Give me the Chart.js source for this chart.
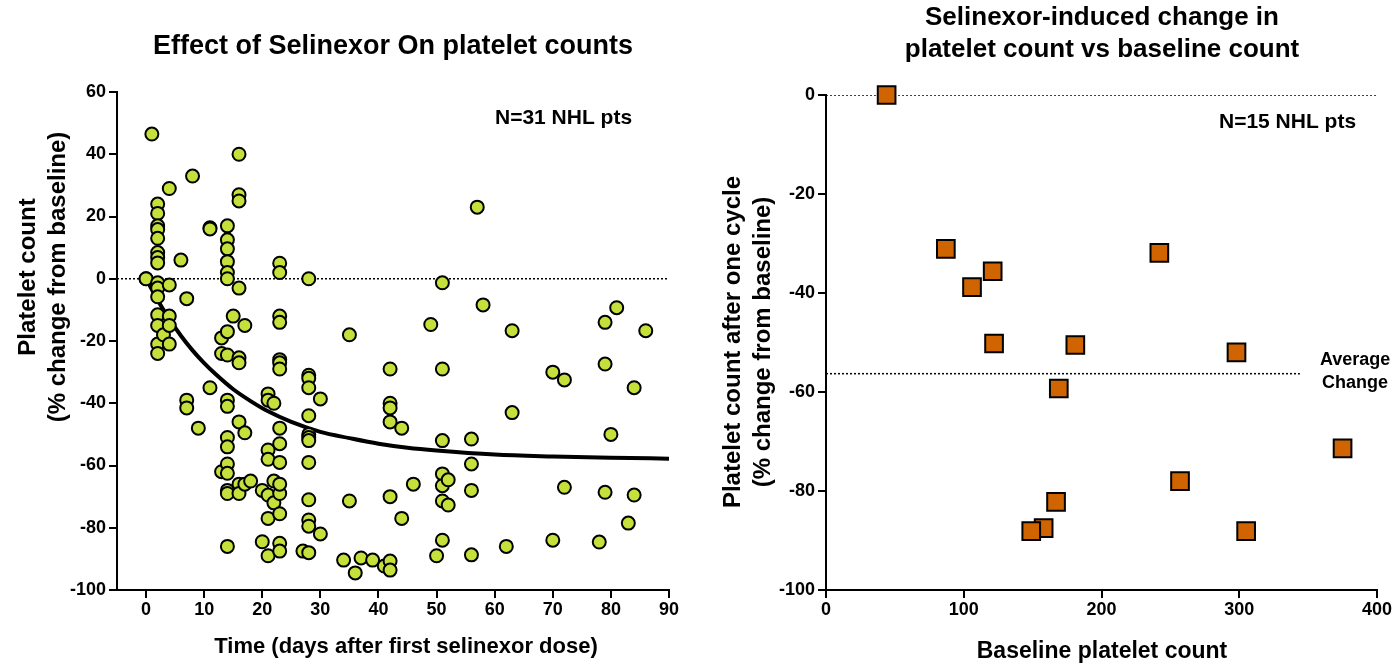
<!DOCTYPE html>
<html>
<head>
<meta charset="utf-8">
<script src="https://cdn.jsdelivr.net/npm/chart.js@4.4.1/dist/chart.umd.min.js"></script>
<style>
  body { margin: 0; background: #fff; }
  .panel { position: absolute; top: 0; width: 700px; height: 665px; }
  #left { left: 0; }
  #right { left: 700px; }
</style>
</head>
<body>
<div class="panel" id="left"><canvas id="timeChart" width="700" height="665"></canvas></div>
<div class="panel" id="right"><canvas id="baseChart" width="700" height="665"></canvas></div>
<script>
// left panel: % change vs days after first dose, grouped by day
const sampleDays = [0, 1, 2, 3, 4, 6, 7, 8, 9, 11, 13, 14, 15, 16, 17, 18, 20, 21, 22, 23,
  27, 28, 30, 34, 35, 36, 37, 39, 41, 42, 44, 46, 49, 50, 51, 52, 56, 57, 58, 62,
  63, 70, 72, 78, 79, 80, 81, 83, 84, 86];
const changeByDay = [
  [0, 0],
  [46.5],
  [24, 21, 17, 15.8, 13, 8.4, 6.8, 5.1, -1.3, -3, -5.8, -11.6, -15, -21, -24],
  [-18],
  [29, -2, -12, -15, -21],
  [6],
  [-6.4, -39, -41.5],
  [33],
  [-48],
  [16.4, 16, -35],
  [-19, -24, -62],
  [17, 12.5, 9.6, 5.5, 2, 0, -17, -24.5, -39, -41, -51, -54, -59.5, -62.5, -68, -69, -86],
  [-12],
  [40, 27, 25, -3, -25.4, -27, -46, -66, -69],
  [-15, -49.5, -66],
  [-65],
  [-68, -84.5],
  [-37, -39, -55, -58, -69.5, -77, -89],
  [-40, -72, -65],
  [5, 2, -12, -14, -26, -27, -29, -48, -53, -59, -69, -75.5, -85, -87.5, -66],
  [-87.5],
  [0, -31, -32, -35, -44, -50, -51, -52, -59, -71, -77.5, -79.5, -88],
  [-38.6, -82],
  [-90.4],
  [-18, -71.4],
  [-94.5],
  [-89.7],
  [-90.4],
  [-92.3],
  [-29, -40, -41.5, -46, -70, -90.7, -93.6],
  [-48, -77],
  [-66],
  [-14.7],
  [-89],
  [-1.3, -29, -52, -62.7, -66.5, -71.4, -84],
  [-64.6, -72.7],
  [-51.5, -59.5, -68, -88.7],
  [23],
  [-8.4],
  [-86],
  [-16.7, -43],
  [-30, -84],
  [-32.5, -67],
  [-84.6],
  [-14, -27.4, -68.6],
  [-50],
  [-9.3],
  [-78.5],
  [-35, -69.5],
  [-16.7]
];

// fitted decay curve
const fitDays = [0, 1, 2, 4, 6, 8, 10, 12, 15, 18, 21, 25, 30, 35, 40, 45, 50, 60, 70, 80, 90];
const fitChange = [0, -3.5, -6.9, -12.9, -18.3, -23, -27.1, -30.7, -35.5, -39.3, -42.6, -46, -49.2, -51.2, -53, -54.3, -55.2, -56.5, -57.1, -57.5, -57.8];

const timeTicks = { min: -5, max: 90, step: 10 };
const pctTicksLeft = { min: -100, max: 60, step: 20 };

// right panel: baseline count vs change after one cycle
const baselineCount = [44, 87, 121, 106, 122, 181, 242, 298, 169, 375, 257, 167, 158, 149, 305];
const cycleChange = [0, -31.1, -35.6, -38.8, -50.2, -50.5, -31.9, -52, -59.3, -71.4, -78, -82.2, -87.5, -88.1, -88.1];
const averageChange = -56.3;
const averageLineEnd = 344;

const baseTicks = { min: 0, max: 400, step: 100 };
const pctTicksRight = { min: -100, max: 0, step: 20 };

// ---------------------------------------------------------------
const FONT = '"Liberation Sans", Arial, Helvetica, sans-serif';

const textPlugin = {
  id: 'texts',
  afterDraw(chart, args, opts) {
    const ctx = chart.ctx;
    ctx.save();
    ctx.fillStyle = '#000';
    ctx.textBaseline = 'middle';
    (opts.items || []).forEach(t => {
      ctx.save();
      ctx.font = 'bold ' + t.size + 'px ' + FONT;
      ctx.textAlign = t.align || 'center';
      ctx.translate(t.x, t.y);
      if (t.rotate) ctx.rotate(-Math.PI / 2);
      ctx.fillText(t.text, 0, 0);
      ctx.restore();
    });
    ctx.restore();
  }
};

function axis(range, fitSize, isX) {
  return {
    type: 'linear',
    min: range.min,
    max: range.max,
    afterFit(scale) {
      if (isX) scale.height = fitSize; else scale.width = fitSize;
    },
    ticks: {
      stepSize: range.step,
      includeBounds: false,
      color: '#000',
      padding: isX ? 1 : 3,
      font: { family: FONT, size: 18, weight: 'bold' }
    },
    grid: { drawOnChartArea: false, drawTicks: true, tickLength: 8, color: '#000', lineWidth: 2 },
    border: { display: true, color: '#000', width: 2 },
    title: { display: false }
  };
}

const leftPoints = [];
sampleDays.forEach((d, i) => {
  changeByDay[i].forEach(v => leftPoints.push({ x: d, y: v }));
});

new Chart(document.getElementById('timeChart'), {
  type: 'scatter',
  data: {
    datasets: [
      {
        data: leftPoints,
        clip: false,
        pointRadius: 6.5,
        pointHoverRadius: 6.5,
        pointBackgroundColor: '#c5e03a',
        pointBorderColor: '#000',
        pointBorderWidth: 2
      },
      {
        data: fitDays.map((d, i) => ({ x: d, y: fitChange[i] })),
        showLine: true,
        borderColor: '#000',
        borderWidth: 4,
        pointRadius: 0,
        cubicInterpolationMode: 'monotone'
      },
      {
        data: [{ x: timeTicks.min, y: 0 }, { x: timeTicks.max, y: 0 }],
        showLine: true,
        borderColor: '#000',
        borderWidth: 1.5,
        borderDash: [2, 2],
        pointRadius: 0
      }
    ]
  },
  options: {
    responsive: false,
    animation: false,
    layout: { padding: { top: 92, right: 31, left: 0, bottom: 0 } },
    scales: {
      x: axis(timeTicks, 75, true),
      y: axis(pctTicksLeft, 117, false)
    },
    plugins: {
      legend: { display: false },
      tooltip: { enabled: false },
      texts: {
        items: [
          { text: 'Effect of Selinexor On platelet counts', x: 393, y: 47, size: 27 },
          { text: 'N=31 NHL pts', x: 495, y: 118, size: 21, align: 'left' },
          { text: 'Platelet count', x: 28, y: 277, size: 24, rotate: true },
          { text: '(% change from baseline)', x: 58, y: 277, size: 24, rotate: true },
          { text: 'Time (days after first selinexor dose)', x: 406, y: 647, size: 22 }
        ]
      }
    }
  },
  plugins: [textPlugin]
});

new Chart(document.getElementById('baseChart'), {
  type: 'scatter',
  data: {
    datasets: [
      {
        data: baselineCount.map((b, i) => ({ x: b, y: cycleChange[i] })),
        clip: false,
        pointStyle: 'rect',
        pointRadius: 12.5,
        pointHoverRadius: 12.5,
        pointBackgroundColor: '#d06400',
        pointBorderColor: '#000',
        pointBorderWidth: 2
      },
      {
        data: [{ x: baseTicks.min, y: 0 }, { x: baseTicks.max, y: 0 }],
        showLine: true,
        borderColor: '#000',
        borderWidth: 1.5,
        borderDash: [2, 2],
        pointRadius: 0
      },
      {
        data: [{ x: baseTicks.min, y: averageChange }, { x: averageLineEnd, y: averageChange }],
        showLine: true,
        borderColor: '#000',
        borderWidth: 1.5,
        borderDash: [2, 2],
        pointRadius: 0
      }
    ]
  },
  options: {
    responsive: false,
    animation: false,
    layout: { padding: { top: 95, right: 23, left: 0, bottom: 0 } },
    scales: {
      x: axis(baseTicks, 75, true),
      y: axis(pctTicksRight, 126, false)
    },
    plugins: {
      legend: { display: false },
      tooltip: { enabled: false },
      texts: {
        items: [
          { text: 'Selinexor-induced change in', x: 402, y: 18, size: 26 },
          { text: 'platelet count vs baseline count', x: 402, y: 50, size: 26 },
          { text: 'N=15 NHL pts', x: 519, y: 122, size: 21, align: 'left' },
          { text: 'Average', x: 620, y: 360, size: 18, align: 'left' },
          { text: 'Change', x: 622, y: 383, size: 18, align: 'left' },
          { text: 'Platelet count after one cycle', x: 33, y: 342, size: 24, rotate: true },
          { text: '(% change from baseline)', x: 63, y: 342, size: 24, rotate: true },
          { text: 'Baseline platelet count', x: 402, y: 652, size: 23 }
        ]
      }
    }
  },
  plugins: [textPlugin]
});
</script>
</body>
</html>
